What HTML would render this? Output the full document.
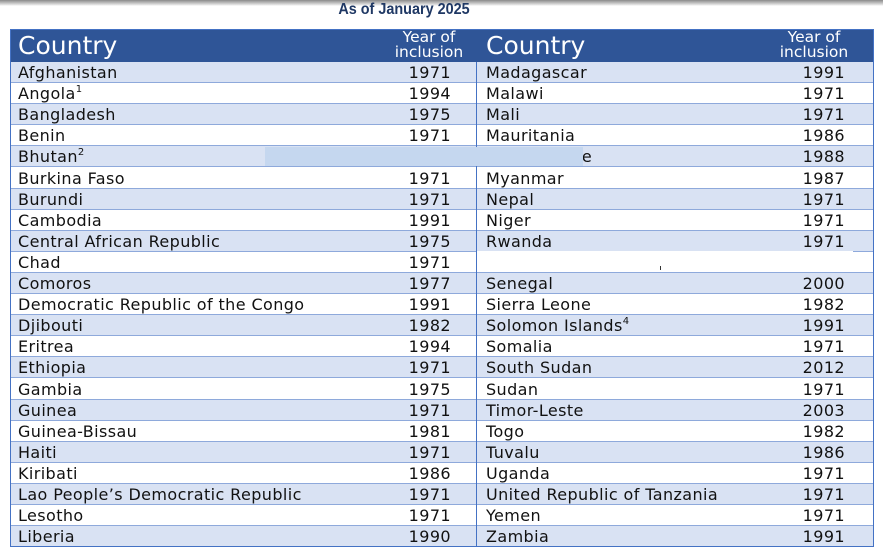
<!DOCTYPE html>
<html><head><meta charset="utf-8"><style>
body{margin:0;width:883px;height:554px;background:#fff;position:relative;overflow:hidden;font-family:"DejaVu Sans","Liberation Sans",sans-serif;}
.topbar{position:absolute;left:0;top:0;width:883px;height:6px;background:linear-gradient(#8a8a8a,#d8d8d8 70%,#fff);}
.title{position:absolute;left:0;width:808px;top:1px;text-align:center;font-family:"Liberation Sans",sans-serif;font-weight:bold;font-size:16px;color:#1F3864;transform:scaleX(0.9);}
.tbl{position:absolute;left:10px;top:29px;width:864px;height:518px;border:1px solid #4472C4;box-sizing:border-box;}
.hdr{position:absolute;left:10px;top:29px;width:864px;height:33px;background:#2F5597;color:#fff;}
.h1{position:absolute;top:2px;font-size:25px;}
.h2{position:absolute;top:1px;font-size:15.5px;line-height:15px;text-align:center;width:90px;}
.row{position:absolute;left:10px;width:864px;height:21.1px;border-bottom:1px solid #8EA9DB;box-sizing:border-box;font-size:16px;letter-spacing:0.4px;color:#111;line-height:21px;}
.c{position:absolute;top:0px;white-space:nowrap;}
.y{position:absolute;top:0px;text-align:right;width:70px;}
sup{font-size:10px;vertical-align:7px;line-height:0;}
.div{position:absolute;left:476px;top:62px;width:1px;height:485px;background:#4472C4;}
</style></head><body>
<div class="topbar"></div>
<div class="title">As of January 2025</div>
<div class="hdr">
<div class="h1" style="left:8px">Country</div>
<div class="h2" style="left:374px">Year of<br>inclusion</div>
<div class="h1" style="left:476px">Country</div>
<div class="h2" style="left:759px">Year of<br>inclusion</div>
</div>
<div id="rows"></div>
<div class="div"></div>
<div style="position:absolute;left:265px;top:147px;width:318px;height:19px;background:#C5D7EF"></div>
<div style="position:absolute;left:477px;top:251px;width:376px;height:21px;background:#fff"></div>
<div style="position:absolute;left:660px;top:266px;width:1px;height:4px;background:#333"></div>
<div class="tbl"></div>
<script>
var L=[["Afghanistan","1971"],["Angola<sup>1</sup>","1994"],["Bangladesh","1975"],["Benin","1971"],["Bhutan<sup>2</sup>",""],["Burkina Faso","1971"],["Burundi","1971"],["Cambodia","1991"],["Central African Republic","1975"],["Chad","1971"],["Comoros","1977"],["Democratic Republic of the Congo","1991"],["Djibouti","1982"],["Eritrea","1994"],["Ethiopia","1971"],["Gambia","1975"],["Guinea","1971"],["Guinea-Bissau","1981"],["Haiti","1971"],["Kiribati","1986"],["Lao People’s Democratic Republic","1971"],["Lesotho","1971"],["Liberia","1990"]];
var R=[["Madagascar","1991"],["Malawi","1971"],["Mali","1971"],["Mauritania","1986"],["Mozambique","1988"],["Myanmar","1987"],["Nepal","1971"],["Niger","1971"],["Rwanda","1971"],["",""],["Senegal","2000"],["Sierra Leone","1982"],["Solomon Islands<sup>4</sup>","1991"],["Somalia","1971"],["South Sudan","2012"],["Sudan","1971"],["Timor-Leste","2003"],["Togo","1982"],["Tuvalu","1986"],["Uganda","1971"],["United Republic of Tanzania","1971"],["Yemen","1971"],["Zambia","1991"]];
var h="";
for(var i=0;i<23;i++){
var t=62+i*21.1;
h+='<div class="row" style="top:'+t+'px;background:'+(i%2==0?'#D9E2F3':'#fff')+'">'+
'<div class="c" style="left:8px">'+L[i][0]+'</div><div class="y" style="left:371px">'+L[i][1]+'</div>'+
'<div class="c" style="left:476px">'+R[i][0]+'</div><div class="y" style="left:765px">'+R[i][1]+'</div></div>';
}
document.getElementById("rows").innerHTML=h;
</script>
</body></html>
